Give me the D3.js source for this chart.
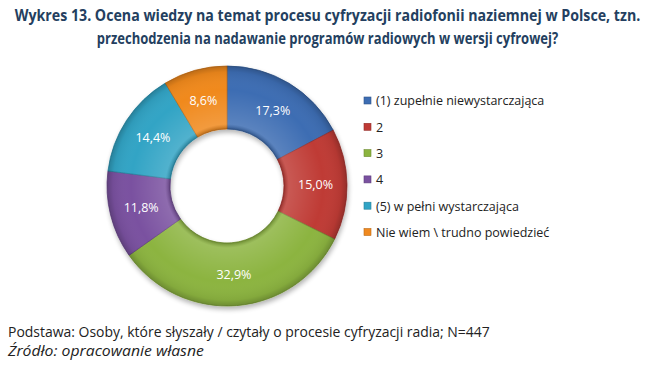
<!DOCTYPE html>
<html>
<head>
<meta charset="utf-8">
<title>Wykres 13</title>
<script src="https://cdn.jsdelivr.net/npm/d3@7"></script>
<style>
  body { margin: 0; background: #fff; }
  text { font-family: "Open Sans", "Noto Sans", sans-serif; }
</style>
</head>
<body>
<div id="chart"></div>
<script>
// data
var categories = ["(1) zupełnie niewystarczająca", "2", "3", "4", "(5) w pełni wystarczająca", "Nie wiem \\ trudno powiedzieć"];
var values = [17.3, 15.0, 32.9, 11.8, 14.4, 8.6];
var colors = ["#3d6db3", "#bf3a35", "#8cb43f", "#7a51a0", "#30a4c5", "#f0891f"];
var titleLines = ["Wykres 13. Ocena wiedzy na temat procesu cyfryzacji radiofonii naziemnej w Polsce, tzn.",
                  "przechodzenia na nadawanie programów radiowych w wersji cyfrowej?"];
var footLines = ["Podstawa: Osoby, które słyszały / czytały o procesie cyfryzacji radia; N=447",
                 "Źródło: opracowanie własne"];

var width = 655, height = 368;
var cx = 227, cy = 186, outerR = 120, innerR = 57;

var svg = d3.select("#chart").append("svg")
  .attr("width", width)
  .attr("height", height);

var defs = svg.append("defs");
var shadow = defs.append("filter").attr("id", "shadow")
  .attr("x", "-20%").attr("y", "-20%").attr("width", "140%").attr("height", "140%");
shadow.append("feGaussianBlur").attr("in", "SourceAlpha").attr("stdDeviation", 2.5);
shadow.append("feOffset").attr("dx", 1).attr("dy", 3).attr("result", "b");
shadow.append("feComponentTransfer").append("feFuncA").attr("type", "linear").attr("slope", 0.3);
var merge = shadow.append("feMerge");
merge.append("feMergeNode");
merge.append("feMergeNode").attr("in", "SourceGraphic");

// bevel shading over the ring (coordinates local to the ring group)
var bevel = defs.append("radialGradient").attr("id", "bevel")
  .attr("gradientUnits", "userSpaceOnUse")
  .attr("cx", 0).attr("cy", 0).attr("r", outerR);
bevel.append("stop").attr("offset", innerR / outerR).attr("stop-color", "#000").attr("stop-opacity", 0.22);
bevel.append("stop").attr("offset", (innerR + 5) / outerR).attr("stop-color", "#fff").attr("stop-opacity", 0.15);
bevel.append("stop").attr("offset", 0.8).attr("stop-color", "#fff").attr("stop-opacity", 0.0);
bevel.append("stop").attr("offset", 0.95).attr("stop-color", "#000").attr("stop-opacity", 0.06);
bevel.append("stop").attr("offset", 1).attr("stop-color", "#000").attr("stop-opacity", 0.22);

// squeeze a text horizontally so it fills a target width (Calibri-like narrow look)
function fitWidth(sel, target, anchorX) {
  sel.each(function(d, i) {
    var t = d3.select(this);
    var w = this.getComputedTextLength();
    var k = target(d, i) / w;
    var y = +t.attr("y");
    t.attr("x", 0).attr("y", 0)
      .attr("transform", "translate(" + anchorX + "," + y + ") scale(" + k + ",1)");
  });
}

// title
var title = svg.append("g").selectAll("text")
  .data(titleLines)
  .enter().append("text")
  .attr("y", function(d, i) { return 21 + i * 23; })
  .attr("text-anchor", "middle")
  .attr("font-size", 15.5)
  .attr("font-weight", "bold")
  .attr("fill", "#243f60")
  .text(function(d) { return d; });
fitWidth(title, function(d, i) { return i === 0 ? 626 : 462; }, width / 2);

var pie = d3.pie().sort(null).value(function(d) { return d; });
var arcs = pie(values);
var arc = d3.arc().innerRadius(innerR).outerRadius(outerR);
var labelArc = d3.arc().innerRadius((innerR + outerR) / 2).outerRadius((innerR + outerR) / 2);

var ring = svg.append("g")
  .attr("transform", "translate(" + cx + "," + cy + ")");

var slices = ring.append("g").attr("filter", "url(#shadow)");
slices.selectAll("path")
  .data(arcs)
  .enter().append("path")
  .attr("d", arc)
  .attr("fill", function(d, i) { return colors[i]; })
  .attr("stroke", function(d, i) { return d3.color(colors[i]).darker(0.6); })
  .attr("stroke-width", 0.8);

ring.append("path")
  .attr("d", d3.arc().innerRadius(innerR).outerRadius(outerR).startAngle(0).endAngle(2 * Math.PI)())
  .attr("fill", "url(#bevel)")
  .attr("pointer-events", "none");

ring.append("g").selectAll("text")
  .data(arcs)
  .enter().append("text")
  .attr("transform", function(d) { return "translate(" + labelArc.centroid(d) + ")"; })
  .attr("text-anchor", "middle")
  .attr("dy", "0.35em")
  .attr("font-size", 12.5)
  .attr("fill", "#fff")
  .text(function(d) { return d.value.toFixed(1).replace(".", ",") + "%"; });

// legend
var legend = svg.append("g").attr("transform", "translate(364,101)");
var item = legend.selectAll("g")
  .data(categories)
  .enter().append("g")
  .attr("transform", function(d, i) { return "translate(0," + i * 26.3 + ")"; });
item.append("rect")
  .attr("x", 0).attr("y", -4)
  .attr("width", 7).attr("height", 7)
  .attr("fill", function(d, i) { return colors[i]; })
  .attr("stroke", function(d, i) { return d3.color(colors[i]).darker(0.7); })
  .attr("stroke-width", 0.6);
item.append("text")
  .attr("x", 12)
  .attr("dy", "0.35em")
  .attr("font-size", 12.5)
  .attr("fill", "#222")
  .text(function(d) { return d; });

// footer
var foot = svg.append("g").selectAll("text")
  .data(footLines)
  .enter().append("text")
  .attr("y", function(d, i) { return 337 + i * 19; })
  .attr("font-size", 13.8)
  .attr("font-style", function(d, i) { return i === 1 ? "italic" : "normal"; })
  .attr("fill", "#222")
  .text(function(d) { return d; });
fitWidth(foot, function(d, i) { return i === 0 ? 482 : 196; }, 8);
</script>
</body>
</html>
